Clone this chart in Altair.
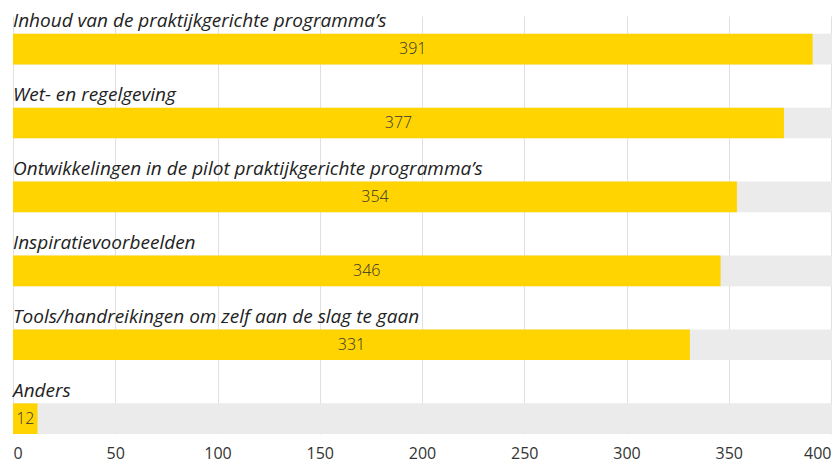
import altair as alt
import pandas as pd

categories = [
    "Inhoud van de praktijkgerichte programma’s",
    "Wet- en regelgeving",
    "Ontwikkelingen in de pilot praktijkgerichte programma’s",
    "Inspiratievoorbeelden",
    "Tools/handreikingen om zelf aan de slag te gaan",
    "Anders",
]
values = [391, 377, 354, 346, 331, 12]
x_ticks = [0, 50, 100, 150, 200, 250, 300, 350, 400]

df = pd.DataFrame({"cat": categories, "value": values})

FONT = "Open Sans"
YELLOW = "#FFD400"
GREY_BG = "#EBEBEB"

yenc = alt.Y(
    "cat:N",
    sort=categories,
    axis=None,
    scale=alt.Scale(paddingInner=0.5856, paddingOuter=0.1203, align=1),
)

xscale = alt.Scale(domain=[0, 400], nice=False)

base = alt.Chart(df)

bg = base.mark_bar(color=GREY_BG).encode(
    y=yenc,
    x=alt.value(0),
    x2=alt.value(830),
)

bars = base.mark_bar(color=YELLOW).encode(
    y=yenc,
    x=alt.X(
        "value:Q",
        scale=xscale,
        axis=alt.Axis(
            values=x_ticks,
            title=None,
            domain=False,
            ticks=False,
            labelFlush=True,
            labelPadding=11,
            labelFont=FONT,
            labelFontSize=16,
            labelColor="#333333",
            gridColor="#E0E0E0",
            gridWidth=1,
        ),
    ),
)

val_text = base.transform_calculate(mid="datum.value / 2").mark_text(
    font=FONT, fontSize=16, fontWeight=300, color="#333333", baseline="middle"
).encode(
    y=yenc,
    x=alt.X("mid:Q", scale=xscale),
    text="value:Q",
)

cat_text = base.mark_text(
    font=FONT, fontSize=19, fontStyle="italic", color="#222222",
    align="left", baseline="alphabetic", dy=-22,
).encode(
    y=yenc,
    x=alt.value(0),
    text="cat:N",
)

chart = (
    alt.layer(bg, bars, val_text, cat_text)
    .properties(
        width=818,
        height=418,
        padding={"left": 5, "top": 8, "right": 1, "bottom": 31},
        autosize=alt.AutoSizeParams(type="none"),
    )
    .configure_view(stroke=None)
)

chart.save("out.html", embed_options={"renderer": "svg", "actions": False})
